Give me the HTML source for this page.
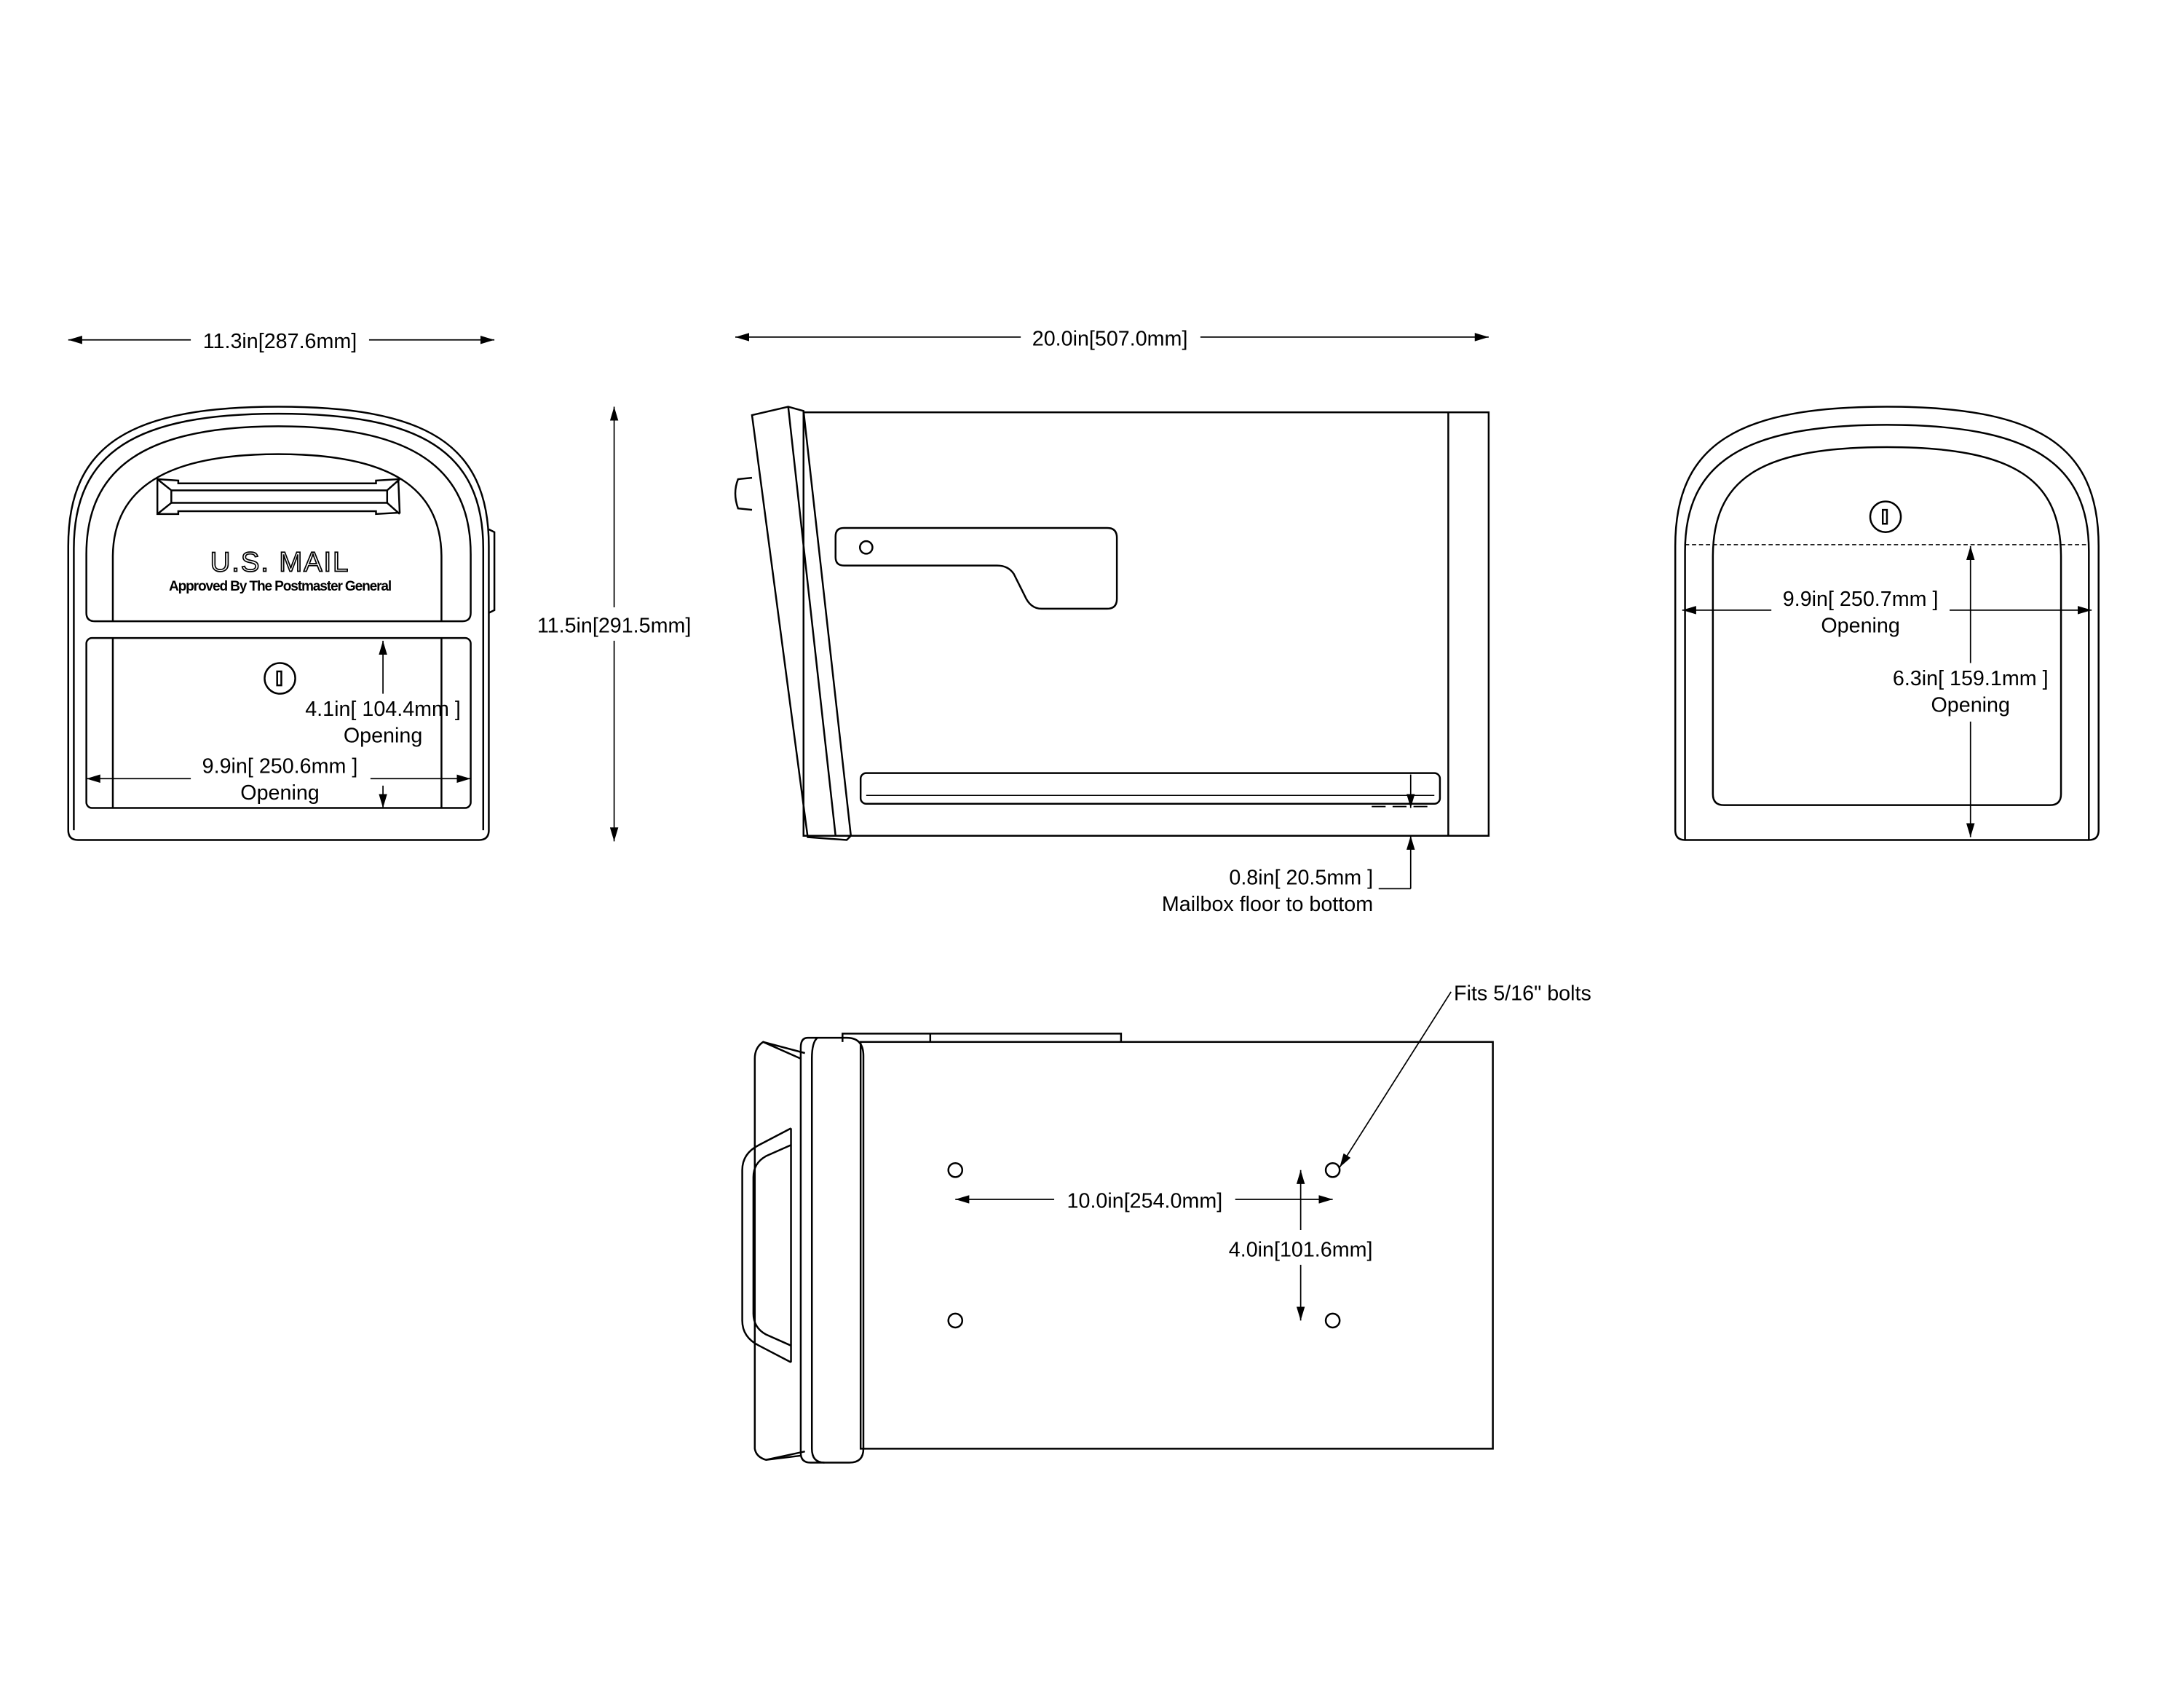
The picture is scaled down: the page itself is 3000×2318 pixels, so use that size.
<!DOCTYPE html>
<html><head><meta charset="utf-8"><style>
html,body{margin:0;padding:0;background:#fff}
svg{display:block}
text{font-family:"Liberation Sans",sans-serif;fill:#000}
</style></head><body>
<svg width="3000" height="2318" viewBox="0 0 1568.3 1211.8" xmlns="http://www.w3.org/2000/svg">
<defs>
<marker id="a" viewBox="0 0 10 6" refX="10" refY="3" markerWidth="10" markerHeight="6" orient="auto-start-reverse" markerUnits="userSpaceOnUse"><path d="M0,0L10,3L0,6Z" fill="#000"/></marker>
</defs>
<g fill="none" stroke="#000" stroke-width="1.3">
<!-- FRONT VIEW -->
<path d="M49,596 L49,392 C49,318 95,292 200,292 C305,292 351,318 351,392 L351,596 Q351,603 344,603 L56,603 Q49,603 49,596 Z"/>
<path d="M53,596 L53,394 C53,324 98,297 200,297 C302,297 347,324 347,394 L347,596"/>
<path d="M62,440 L62,398 C62,336 104,306 200,306 C296,306 338,336 338,398 L338,440 Q338,446 332,446 L68,446 Q62,446 62,440 Z"/>
<path d="M81,446 L81,400 C81,350 120,326 200,326 C280,326 317,350 317,400 L317,446"/>
<rect x="62" y="458" width="276" height="122" rx="4"/>
<line x1="81" y1="458" x2="81" y2="580"/><line x1="317" y1="458" x2="317" y2="580"/>
<path d="M351,380 L355,382 L355,438 L351,440"/>
<path d="M113,344 L128,345 L128,347 L270,347 L270,345 L286,344 L287,368 L270,369 L270,367 L128,367 L128,369 L113,369 Z"/>
<path d="M113,344 L123,352 L123,361 L113,369 M287,344 L278,352 L278,361 L287,369 M123,352 L278,352 M123,361 L278,361"/>
<circle cx="201" cy="487" r="11"/><rect x="199" y="482" width="3" height="10"/>
<!-- SIDE VIEW -->
<rect x="577" y="296" width="492" height="304"/>
<line x1="1040" y1="296" x2="1040" y2="600"/>
<path d="M540,298 L566,292 L577,295 L611,600 L608,603 L580,601 Z"/>
<line x1="566" y1="292" x2="600" y2="600"/>
<path d="M540,343 L530,344 Q526,354 530,365 L540,366"/>
<path d="M606,379 L795,379 Q802,379 802,386 L802,430 Q802,437 795,437 L748,437 Q740,437 736,428 L728,412 Q724,406 716,406 L606,406 Q600,406 600,400 L600,385 Q600,379 606,379 Z"/>
<circle cx="622" cy="393" r="4.5"/>
<rect x="618" y="555" width="416" height="22" rx="4"/>
<line x1="622" y1="571" x2="1030" y2="571" stroke-width="0.8"/>
<path d="M985,579 L995,579 M1000,579 L1010,579 M1015,579 L1025,579" stroke-width="1"/>
<!-- RIGHT VIEW -->
<path d="M1203,596 L1203,392 C1203,318 1249,292 1355,292 C1461,292 1507,318 1507,392 L1507,596 Q1507,603 1500,603 L1210,603 Q1203,603 1203,596 Z"/>
<path d="M1210,603 L1210,396 C1210,332 1252,305 1355,305 C1458,305 1500,332 1500,396 L1500,603"/>
<path d="M1230,570 L1230,400 C1230,345 1262,321 1355,321 C1448,321 1480,345 1480,400 L1480,570 Q1480,578 1472,578 L1238,578 Q1230,578 1230,570 Z"/>
<line x1="1210" y1="391" x2="1500" y2="391" stroke-dasharray="3,2" stroke-width="0.9"/>
<circle cx="1354" cy="371" r="11"/><rect x="1352" y="366" width="3" height="10"/>
<!-- BOTTOM VIEW -->
<rect x="618" y="748" width="454" height="292"/>
<path d="M605,748 L605,742 L805,742 L805,748"/><line x1="668" y1="742" x2="668" y2="748"/>
<path d="M580,745 Q575,745 575,752 L575,1043 Q575,1050 582,1050 L610,1050 Q620,1050 620,1040 L620,758 Q620,745 608,745 Z"/>
<path d="M587,745 Q583,748 583,760 L583,1040 Q583,1050 592,1050"/>
<path d="M575,760 L548,748 Q542,752 542,760 L542,1040 Q543,1046 550,1048 L575,1045"/>
<path d="M548,748 L578,756 M550,1048 L578,1042"/>
<path d="M568,810 L545,822 Q533,828 533,840 L533,948 Q533,960 545,966 L568,978"/>
<path d="M568,822 L550,830 Q541,835 541,845 L541,943 Q541,953 550,958 L568,966"/>
<path d="M568,810 L568,978"/>
<circle cx="686" cy="840" r="5"/><circle cx="957" cy="840" r="5"/>
<circle cx="686" cy="948" r="5"/><circle cx="957" cy="948" r="5"/>
</g>
<!-- front view texts -->
<text x="201" y="410" font-size="20" text-anchor="middle" style="fill:#fff;stroke:#000;stroke-width:0.9;letter-spacing:1px">U.S. MAIL</text>
<text x="201" y="424" font-size="10" font-weight="bold" text-anchor="middle" style="letter-spacing:-0.6px">Approved By The Postmaster General</text>
<!-- dimension lines -->
<g stroke="#000" stroke-width="0.9" fill="none">
<line x1="49" y1="244" x2="137" y2="244" marker-start="url(#a)"/><line x1="265" y1="244" x2="355" y2="244" marker-end="url(#a)"/>
<line x1="528" y1="242" x2="733" y2="242" marker-start="url(#a)"/><line x1="862" y1="242" x2="1069" y2="242" marker-end="url(#a)"/>
<line x1="441" y1="292" x2="441" y2="436" marker-start="url(#a)"/><line x1="441" y1="460" x2="441" y2="604" marker-end="url(#a)"/>
<line x1="275" y1="460" x2="275" y2="498" marker-start="url(#a)"/><line x1="275" y1="564" x2="275" y2="580" marker-end="url(#a)"/>
<line x1="62" y1="559" x2="137" y2="559" marker-start="url(#a)"/><line x1="266" y1="559" x2="338" y2="559" marker-end="url(#a)"/>
<line x1="1208" y1="438" x2="1272" y2="438" marker-start="url(#a)"/><line x1="1400" y1="438" x2="1502" y2="438" marker-end="url(#a)"/>
<line x1="1415" y1="392" x2="1415" y2="476" marker-start="url(#a)"/><line x1="1415" y1="518" x2="1415" y2="601" marker-end="url(#a)"/>
<line x1="1013" y1="556" x2="1013" y2="580" marker-end="url(#a)"/>
<line x1="1013" y1="600" x2="1013" y2="638" marker-start="url(#a)"/><line x1="1013" y1="638" x2="990" y2="638"/>
<line x1="686" y1="861" x2="757" y2="861" marker-start="url(#a)"/><line x1="887" y1="861" x2="957" y2="861" marker-end="url(#a)"/>
<line x1="934" y1="840" x2="934" y2="883" marker-start="url(#a)"/><line x1="934" y1="908" x2="934" y2="948" marker-end="url(#a)"/>
<line x1="1042" y1="712" x2="962" y2="838" marker-end="url(#a)"/>
</g>
<g font-size="15">
<text x="201" y="250" text-anchor="middle">11.3in[287.6mm]</text>
<text x="797" y="248" text-anchor="middle">20.0in[507.0mm]</text>
<text x="441" y="454" text-anchor="middle">11.5in[291.5mm]</text>
<text x="275" y="514" text-anchor="middle">4.1in[ 104.4mm ]</text>
<text x="275" y="533" text-anchor="middle">Opening</text>
<text x="201" y="555" text-anchor="middle">9.9in[ 250.6mm ]</text>
<text x="201" y="574" text-anchor="middle">Opening</text>
<text x="1336" y="435" text-anchor="middle">9.9in[ 250.7mm ]</text>
<text x="1336" y="454" text-anchor="middle">Opening</text>
<text x="1415" y="492" text-anchor="middle">6.3in[ 159.1mm ]</text>
<text x="1415" y="511" text-anchor="middle">Opening</text>
<text x="986" y="635" text-anchor="end">0.8in[ 20.5mm ]</text>
<text x="986" y="654" text-anchor="end">Mailbox floor to bottom</text>
<text x="1044" y="718">Fits 5/16" bolts</text>
<text x="822" y="867" text-anchor="middle">10.0in[254.0mm]</text>
<text x="934" y="902" text-anchor="middle">4.0in[101.6mm]</text>
</g>
</svg>
</body></html>
